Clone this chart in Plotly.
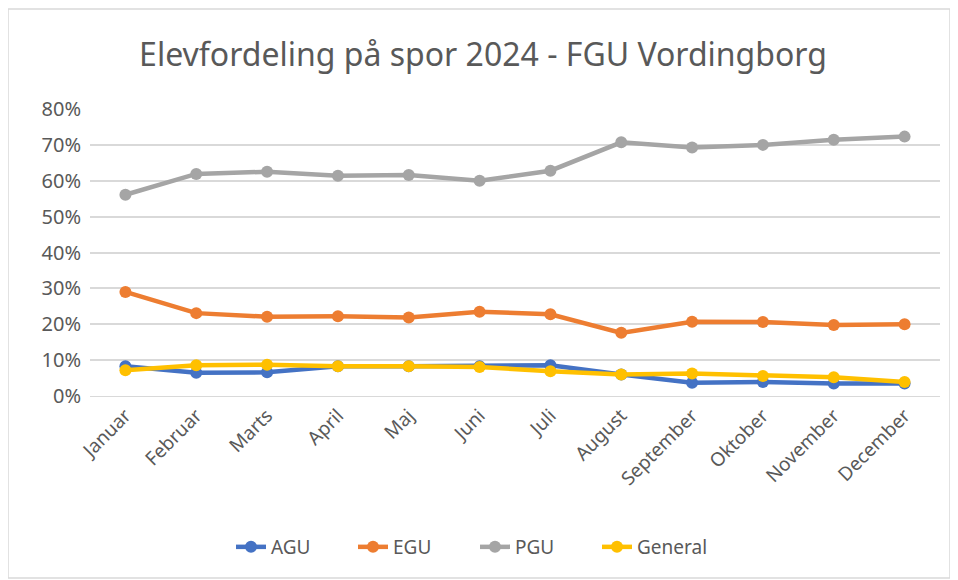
import plotly.graph_objects as go

months = ["Januar", "Februar", "Marts", "April", "Maj", "Juni", "Juli",
          "August", "September", "Oktober", "November", "December"]
agu = [0.083, 0.065, 0.066, 0.083, 0.083, 0.083, 0.086, 0.060, 0.037, 0.039, 0.035, 0.035]
egu = [0.290, 0.231, 0.221, 0.222, 0.219, 0.235, 0.228, 0.176, 0.207, 0.206, 0.198, 0.200]
pgu = [0.561, 0.619, 0.625, 0.614, 0.616, 0.600, 0.628, 0.707, 0.693, 0.700, 0.714, 0.723]
general = [0.072, 0.086, 0.087, 0.083, 0.083, 0.081, 0.069, 0.060, 0.063, 0.056, 0.052, 0.039]

series = [("AGU", agu, "#4472C4"), ("EGU", egu, "#ED7D31"),
          ("PGU", pgu, "#A5A5A5"), ("General", general, "#FFC000")]

fig = go.Figure()
for name, vals, col in series:
    fig.add_trace(go.Scatter(x=months, y=vals, name=name, mode="lines+markers",
                             line=dict(color=col, width=4.5),
                             marker=dict(color=col, size=12)))

W, H = 950, 572
L, R, T, B = 82, 18, 101, 184
pw, ph = W - L - R, H - T - B

fig.update_layout(
    width=W, height=H,
    paper_bgcolor="white", plot_bgcolor="white",
    margin=dict(l=L, r=R, t=T, b=B),
    title=dict(text="Elevfordeling på spor 2024 - FGU Vordingborg",
               x=0.5, xanchor="center", y=1 - 47 / H, yanchor="middle",
               font=dict(family="Noto Sans", size=32, color="#595959")),
    font=dict(family="Noto Sans", color="#595959"),
    showlegend=True,
    legend=dict(orientation="h", x=(467 - L) / pw, xanchor="center",
                y=-(539 - (H - B)) / ph, yanchor="middle",
                entrywidth=77, entrywidthmode="pixels",
                font=dict(size=19, color="#595959")),
    xaxis=dict(showgrid=False, showline=True, linecolor="#d9d9d9",
               tickangle=-45, tickfont=dict(size=19, color="#595959"),
               ticks="", range=[-0.5, 11.5]),
    yaxis=dict(range=[0, 0.8], dtick=0.1, tickformat=".0%",
               showgrid=True, gridcolor="#d9d9d9", gridwidth=1.5,
               zeroline=False, showline=False,
               tickfont=dict(size=20, color="#595959"), ticklabelstandoff=8),
    shapes=[dict(type="rect", xref="paper", yref="paper",
                 x0=(0 - L) / pw, x1=(942 - L) / pw,
                 y0=-(570 - (H - B)) / ph, y1=((H - B) - 1) / ph,
                 line=dict(color="#d9d9d9", width=1.5), fillcolor="rgba(0,0,0,0)",
                 layer="below")]
)

fig.write_html("out.html")
